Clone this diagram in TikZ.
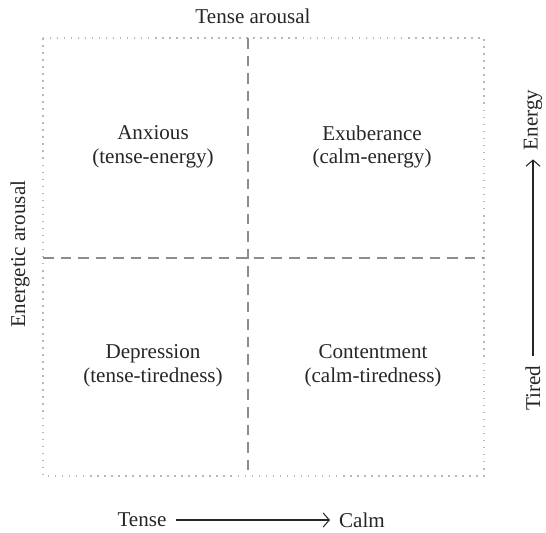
\documentclass[tikz,border=0pt]{standalone}
\usepackage{fontspec}
\setmainfont{Liberation Serif}
\usetikzlibrary{arrows, arrows.meta, positioning}
\tikzset{
node distance=5mm,
>={Straight Barb[length=3.5pt,width=8pt]},
frame/.style={draw=black!28, line width=0.9pt, dash pattern=on 0.9pt off 3.1pt},
quadline/.style={draw=black!45, line width=0.9pt, dash pattern=on 6pt off 4pt},
txt/.style={%
    align=center,
    inner sep=2pt,
    text=black!85,
    % Font
    font=\fontsize{12}{13.5}\selectfont
},
axis/.style={->, black!85, line width=0.6pt, shorten <=3pt, shorten >=3pt},
}

\begin{document}
\begin{tikzpicture}[x=0.02cm, y=-0.02cm]
	\useasboundingbox (0,0) rectangle (546,532);

	% quadrant grid
	\coordinate (tl) at (43,38);
	\coordinate (br) at (484,476);
	\coordinate (mt) at (248,38);
	\coordinate (mb) at (248,476);
	\coordinate (ml) at (43,258);
	\coordinate (mr) at (484,258);
	\draw[frame] (tl) rectangle (br);
	\draw[quadline] (mt) -- (mb);
	\draw[quadline] (ml) -- (mr);

	\node[txt] (anxious) at (153,147) {Anxious\\(tense-energy)};
	\node[txt] (exuber) at (372,147) {Exuberance\\(calm-energy)};
	\node[txt] (depress) at (153,366) {Depression\\(tense-tiredness)};
	\node[txt] (content) at (373,366) {Contentment\\(calm-tiredness)};

	\node[txt] (tensear) at (253,16) {Tense arousal};
	\node[txt, rotate=90] (energear) at (20,254) {Energetic arousal};

	% axes
	\node[txt] (tense) at (142,520) {Tense};
	\node[txt, right=3.3cm of tense] (calm) {Calm};
	\node[txt, rotate=90] (tired) at (533,388) {Tired};
	\node[txt, rotate=90] (energy) at (533,120) {Energy};

	\draw[axis] (tense) -- (calm);
	\draw[axis] (tired) -- (energy);

\end{tikzpicture}
\end{document}
